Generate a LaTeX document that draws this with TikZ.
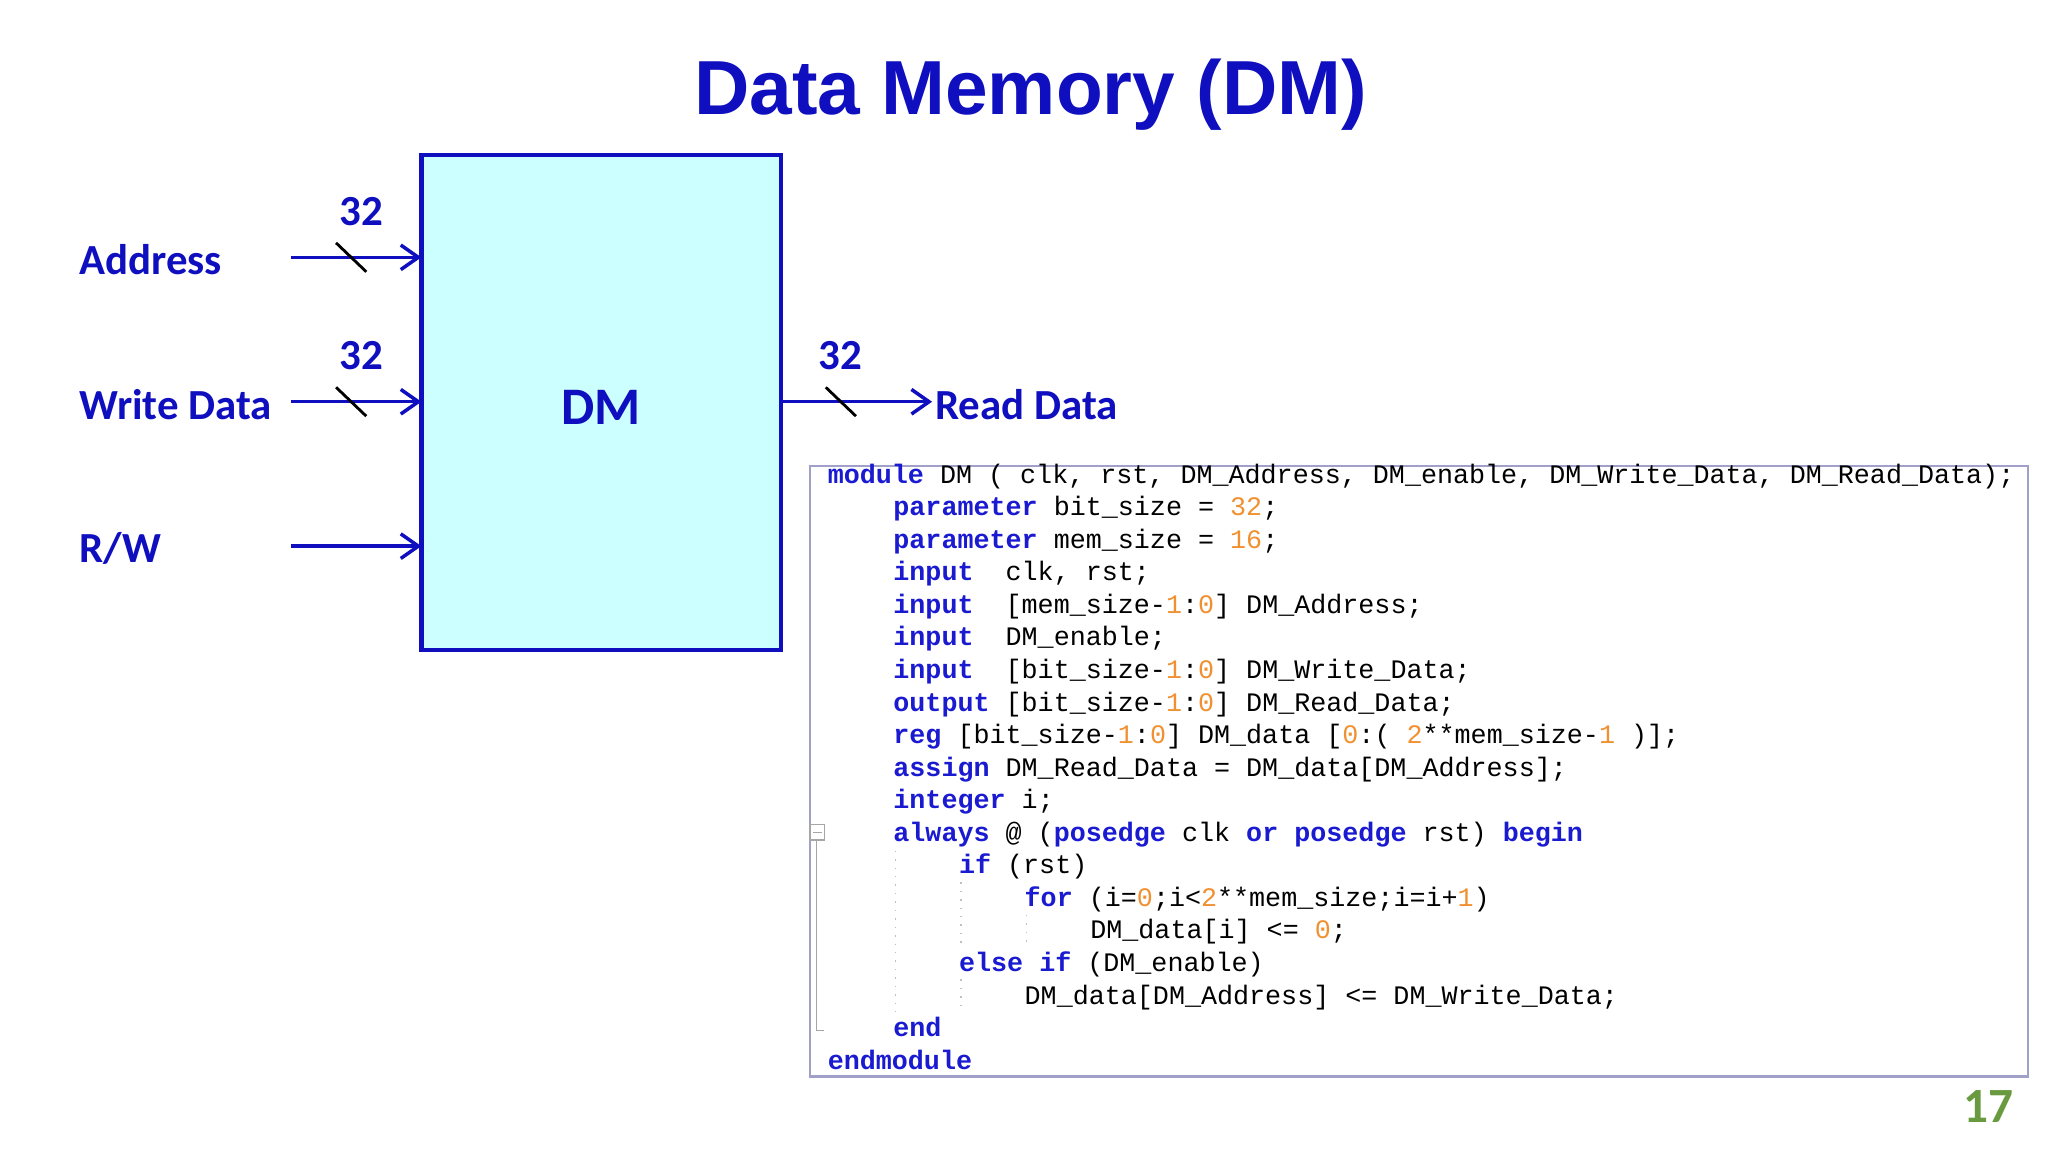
\documentclass[tikz,border=0pt]{standalone}
\usepackage{fontspec}
\setmainfont{Carlito}
\newfontfamily\titlefont{Liberation Sans}
\newfontfamily\codefont{Liberation Mono}
\usetikzlibrary{arrows.meta}
\definecolor{dblue}{HTML}{0F0FC0}
\definecolor{kwblue}{HTML}{1A1AD0}
\definecolor{numor}{HTML}{F09030}
\definecolor{pgreen}{HTML}{6A9A40}
\newcommand{\kw}[1]{\textcolor{kwblue}{\bfseries #1}}
\newcommand{\nm}[1]{\textcolor{numor}{#1}}
\begin{document}
\begin{tikzpicture}[x=0.013128cm,y=-0.013128cm,
  lbl/.style={font=\bfseries\fontsize{12.2}{14}\selectfont,text=dblue,inner sep=0},
  sig/.style={draw=dblue,line width=1pt,-{Straight Barb[length=5pt,width=7pt]}},
  slash/.style={draw=black,line width=0.8pt},
  code/.style={anchor=base west,inner sep=0,font=\codefont\fontsize{7.6}{9}\selectfont}]
\useasboundingbox (0,0) rectangle (1560,877.5);
\node[font=\titlefont\bfseries\fontsize{21.8}{26}\selectfont,text=dblue] (title) at (785,72) {Data Memory (DM)};
\draw[draw=dblue,line width=1.2pt,fill={rgb,1:red,0.8;green,1;blue,1}] (321,118) rectangle (595,495);
\node[font=\bfseries\fontsize{15}{18}\selectfont,text=dblue] (dm) at (458,310) {DM};
\node[lbl,anchor=west] (addr) at (60,198) {Address};
\node[lbl,anchor=west] (wd) at (60,308) {Write Data};
\node[lbl,anchor=west] (rw) at (60,418) {R/W};
\node[lbl,anchor=west] (rd) at (712,308) {Read Data};
\coordinate (a0) at (222,196); \coordinate (a1) at (321,196);
\coordinate (w0) at (222,306); \coordinate (w1) at (321,306);
\coordinate (r0) at (222,416); \coordinate (r1) at (321,416);
\coordinate (o0) at (595,306); \coordinate (o1) at (710,306);
\draw[sig] (a0) -- (a1);
\draw[sig] (w0) -- (w1);
\draw[sig] (r0) -- (r1);
\draw[sig] (o0) -- (o1);
\draw[slash] (256,185) -- (279,207);
\draw[slash] (256,295) -- (279,317);
\draw[slash] (629,295) -- (652,317);
\node[lbl] (n1) at (275,161) {32};
\node[lbl] (n2) at (275,271) {32};
\node[lbl] (n3) at (640,271) {32};
\node[font=\bfseries\fontsize{14}{16}\selectfont,text=pgreen] (pg) at (1515,843) {17};
% code box
\draw[draw={rgb,255:red,160;green,160;blue,200},line width=0.6pt] (617,355) rectangle (1545,820);
\draw[gray!70,line width=0.5pt] (617,628) rectangle (628,640);
\draw[gray!70,line width=0.4pt] (619,634) -- (626,634);
\draw[gray!70,line width=0.5pt] (622,640) -- (622,785) -- (628,785);
\draw[gray!50,dotted] (682,648) -- (682,772);
\draw[gray!50,dotted] (732,672) -- (732,720);
\draw[gray!50,dotted] (732,746) -- (732,770);
\draw[gray!50,dotted] (782,697) -- (782,720);
\foreach \i/\ind/\t in {
 0/0/{\kw{module} DM ( clk, rst, DM\_Address, DM\_enable, DM\_Write\_Data, DM\_Read\_Data);},
 1/1/{\kw{parameter} bit\_size = \nm{32};},
 2/1/{\kw{parameter} mem\_size = \nm{16};},
 3/1/{\kw{input}\ \ clk, rst;},
 4/1/{\kw{input}\ \ [mem\_size-\nm{1}:\nm{0}] DM\_Address;},
 5/1/{\kw{input}\ \ DM\_enable;},
 6/1/{\kw{input}\ \ [bit\_size-\nm{1}:\nm{0}] DM\_Write\_Data;},
 7/1/{\kw{output} [bit\_size-\nm{1}:\nm{0}] DM\_Read\_Data;},
 8/1/{\kw{reg} [bit\_size-\nm{1}:\nm{0}] DM\_data [\nm{0}:( \nm{2}**mem\_size-\nm{1} )];},
 9/1/{\kw{assign} DM\_Read\_Data = DM\_data[DM\_Address];},
 10/1/{\kw{integer} i;},
 11/1/{\kw{always} @ (\kw{posedge} clk \kw{or} \kw{posedge} rst) \kw{begin}},
 12/2/{\kw{if} (rst)},
 13/3/{\kw{for} (i=\nm{0};i<\nm{2}**mem\_size;i=i+\nm{1})},
 14/4/{DM\_data[i] <= \nm{0};},
 15/2/{\kw{else} \kw{if} (DM\_enable)},
 16/3/{DM\_data[DM\_Address] <= DM\_Write\_Data;},
 17/1/{\kw{end}},
 18/0/{\kw{endmodule}}}
 \node[code] (c\i) at (630+50*\ind,368+24.8*\i) {\t};
\end{tikzpicture}
\end{document}
